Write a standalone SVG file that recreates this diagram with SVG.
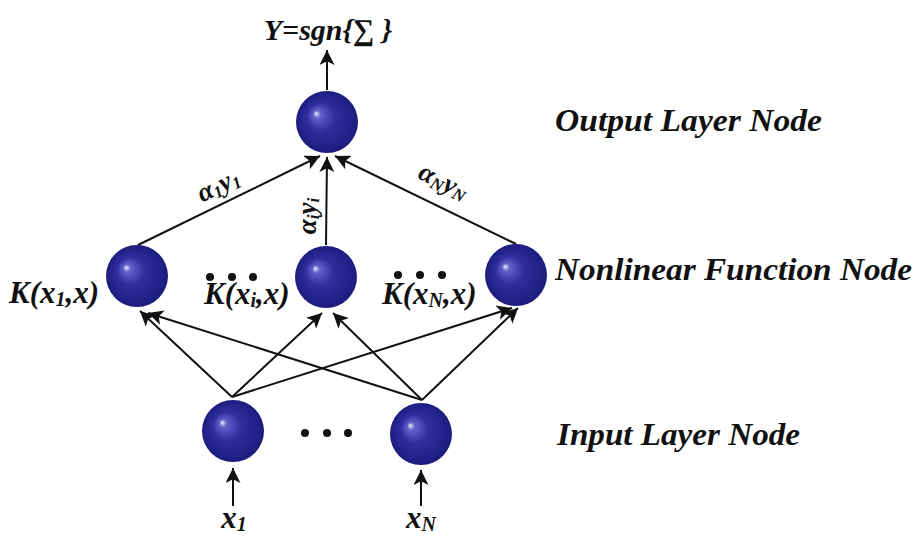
<svg xmlns="http://www.w3.org/2000/svg" width="919" height="540" viewBox="0 0 919 540">
<style>
.t{font-family:"Liberation Serif","Times New Roman",serif;font-weight:bold;font-style:italic;fill:#111;}
.lay{font-size:31px;}
.lbl{font-size:31px;}
.w{font-size:27px;}
.e{stroke:#111;stroke-width:2;fill:none;marker-end:url(#ah);}
.ball{fill:url(#g);}
.dot{fill:#111;}
</style>
<defs>
<radialGradient id="g" cx="0.5" cy="0.5" r="0.5" fx="0.32" fy="0.36">
<stop offset="0" stop-color="#f0f0ff"/>
<stop offset="0.12" stop-color="#6262c8"/>
<stop offset="0.45" stop-color="#2e2ea0"/>
<stop offset="1" stop-color="#1c1c7e"/>
</radialGradient>
<marker id="ah" viewBox="0 0 10 10" refX="10" refY="5" markerWidth="7.5" markerHeight="7.5" orient="auto" markerUnits="strokeWidth">
<path d="M0,0 L10,5 L0,10 L2.5,5 Z" fill="#111"/>
</marker>
</defs>
<rect width="919" height="540" fill="#fff"/>
<g id="connectors">
<line class="e" x1="327" y1="90" x2="327" y2="50"/>
<line class="e" x1="138" y1="245" x2="320" y2="156"/>
<line class="e" x1="326" y1="245" x2="327" y2="157"/>
<line class="e" x1="516" y1="244" x2="335" y2="156"/>
<line class="e" x1="232" y1="397" x2="140" y2="311"/>
<line class="e" x1="232" y1="397" x2="322" y2="313"/>
<line class="e" x1="232" y1="397" x2="512" y2="308"/>
<line class="e" x1="422" y1="400" x2="148" y2="313"/>
<line class="e" x1="422" y1="400" x2="333" y2="313"/>
<line class="e" x1="422" y1="400" x2="518" y2="308"/>
<line class="e" x1="233" y1="506" x2="233" y2="468"/>
<line class="e" x1="421" y1="506" x2="421" y2="470"/>
</g>
<g id="output-node">
<circle class="ball" cx="327" cy="122" r="31"/>
<text class="t" font-size="30" x="328" y="40" text-anchor="middle">Y=sgn{∑ }</text>
</g>
<g id="hidden-1">
<circle class="ball" cx="137" cy="276" r="31"/>
<text class="t lbl" x="9" y="303">K(x<tspan font-size="20" dy="3">1</tspan><tspan dy="-3">,x)</tspan></text>
</g>
<g id="hidden-i">
<circle class="ball" cx="326" cy="277" r="31"/>
<text class="t lbl" x="204" y="304">K(x<tspan font-size="20" dy="3">i</tspan><tspan dy="-3">,x)</tspan></text>
<circle class="dot" cx="210" cy="277" r="4"/><circle class="dot" cx="232" cy="277" r="4"/><circle class="dot" cx="253" cy="277" r="4"/>
</g>
<g id="hidden-N">
<circle class="ball" cx="516" cy="275" r="31"/>
<text class="t lbl" x="382" y="304">K(x<tspan font-size="20" dy="3">N</tspan><tspan dy="-3">,x)</tspan></text>
<circle class="dot" cx="398" cy="275" r="4"/><circle class="dot" cx="420" cy="275" r="4"/><circle class="dot" cx="442" cy="275" r="4"/>
</g>
<g id="input-1">
<circle class="ball" cx="233" cy="431" r="31"/>
<text class="t lbl" x="234" y="528" text-anchor="middle">x<tspan font-size="20" dy="3">1</tspan></text>
</g>
<g id="input-N">
<circle class="ball" cx="421" cy="434" r="31"/>
<text class="t lbl" x="421" y="528" text-anchor="middle">x<tspan font-size="20" dy="3">N</tspan></text>
</g>
<g id="input-dots">
<circle class="dot" cx="305" cy="433" r="4"/><circle class="dot" cx="327" cy="433" r="4"/><circle class="dot" cx="348" cy="433" r="4"/>
</g>
<g id="weights">
<text class="t w" transform="translate(222,193) rotate(-26)" text-anchor="middle">α<tspan font-size="17" dy="3">1</tspan><tspan dy="-3">y</tspan><tspan font-size="17" dy="3">1</tspan></text>
<text class="t w" transform="translate(316,216) rotate(-90)" text-anchor="middle">α<tspan font-size="17" dy="3">i</tspan><tspan dy="-3">y</tspan><tspan font-size="17" dy="3">i</tspan></text>
<text class="t w" transform="translate(440,189) rotate(26)" text-anchor="middle">α<tspan font-size="17" dy="3">N</tspan><tspan dy="-3">y</tspan><tspan font-size="17" dy="3">N</tspan></text>
</g>
<g id="layer-labels">
<text class="t lay" x="555" y="131" textLength="267" lengthAdjust="spacingAndGlyphs">Output Layer Node</text>
<text class="t lay" x="555" y="280" textLength="357" lengthAdjust="spacingAndGlyphs">Nonlinear Function Node</text>
<text class="t lay" x="557" y="445" textLength="243" lengthAdjust="spacingAndGlyphs">Input Layer Node</text>
</g>
</svg>
